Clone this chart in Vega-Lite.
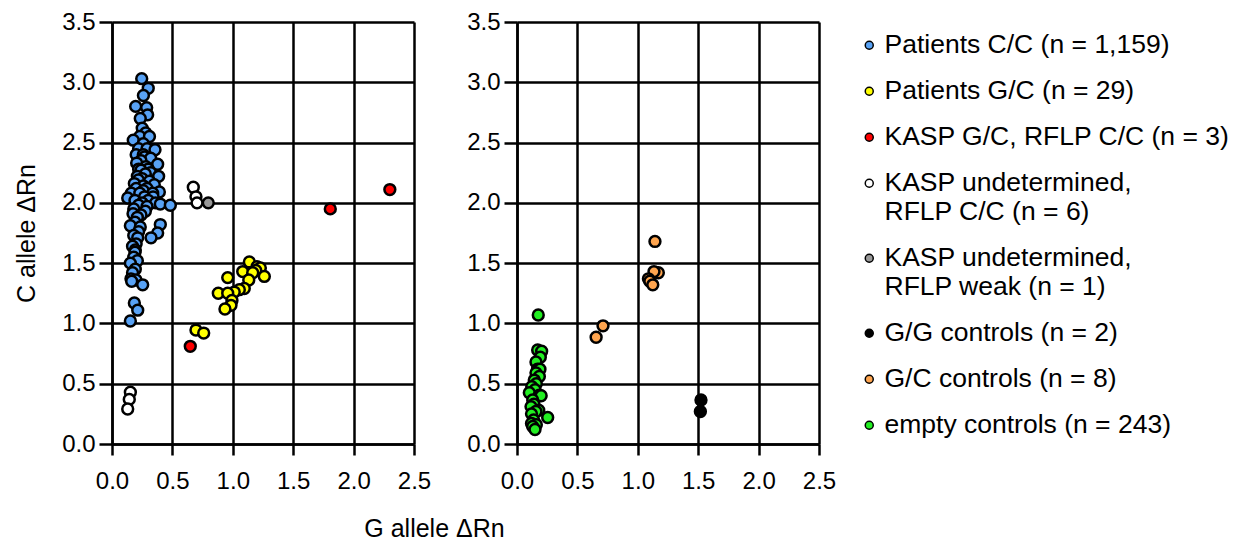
{
  "$schema": "https://vega.github.io/schema/vega-lite/v6.json",
  "padding": {"top": 10, "left": 14, "right": 5, "bottom": 1},
  "background": "white",
  "bounds": "flush",
  "spacing": 103,
  "datasets": {
    "pts": [
      {"p": "L", "g": "Patients C/C (n = 1,159)", "x": 0.246, "y": 3.03},
      {"p": "L", "g": "Patients C/C (n = 1,159)", "x": 0.30, "y": 2.95},
      {"p": "L", "g": "Patients C/C (n = 1,159)", "x": 0.26, "y": 2.89},
      {"p": "L", "g": "Patients C/C (n = 1,159)", "x": 0.196, "y": 2.80},
      {"p": "L", "g": "Patients C/C (n = 1,159)", "x": 0.287, "y": 2.79},
      {"p": "L", "g": "Patients C/C (n = 1,159)", "x": 0.295, "y": 2.73},
      {"p": "L", "g": "Patients C/C (n = 1,159)", "x": 0.234, "y": 2.70},
      {"p": "L", "g": "Patients C/C (n = 1,159)", "x": 0.25, "y": 2.62},
      {"p": "L", "g": "Patients C/C (n = 1,159)", "x": 0.279, "y": 2.58},
      {"p": "L", "g": "Patients C/C (n = 1,159)", "x": 0.23, "y": 2.55},
      {"p": "L", "g": "Patients C/C (n = 1,159)", "x": 0.31, "y": 2.55},
      {"p": "L", "g": "Patients C/C (n = 1,159)", "x": 0.176, "y": 2.52},
      {"p": "L", "g": "Patients C/C (n = 1,159)", "x": 0.259, "y": 2.49},
      {"p": "L", "g": "Patients C/C (n = 1,159)", "x": 0.22, "y": 2.45},
      {"p": "L", "g": "Patients C/C (n = 1,159)", "x": 0.29, "y": 2.45},
      {"p": "L", "g": "Patients C/C (n = 1,159)", "x": 0.356, "y": 2.44},
      {"p": "L", "g": "Patients C/C (n = 1,159)", "x": 0.20, "y": 2.40},
      {"p": "L", "g": "Patients C/C (n = 1,159)", "x": 0.259, "y": 2.40},
      {"p": "L", "g": "Patients C/C (n = 1,159)", "x": 0.27, "y": 2.38},
      {"p": "L", "g": "Patients C/C (n = 1,159)", "x": 0.32, "y": 2.37},
      {"p": "L", "g": "Patients C/C (n = 1,159)", "x": 0.24, "y": 2.35},
      {"p": "L", "g": "Patients C/C (n = 1,159)", "x": 0.204, "y": 2.33},
      {"p": "L", "g": "Patients C/C (n = 1,159)", "x": 0.378, "y": 2.32},
      {"p": "L", "g": "Patients C/C (n = 1,159)", "x": 0.28, "y": 2.30},
      {"p": "L", "g": "Patients C/C (n = 1,159)", "x": 0.30, "y": 2.28},
      {"p": "L", "g": "Patients C/C (n = 1,159)", "x": 0.22, "y": 2.28},
      {"p": "L", "g": "Patients C/C (n = 1,159)", "x": 0.24, "y": 2.27},
      {"p": "L", "g": "Patients C/C (n = 1,159)", "x": 0.32, "y": 2.25},
      {"p": "L", "g": "Patients C/C (n = 1,159)", "x": 0.276, "y": 2.24},
      {"p": "L", "g": "Patients C/C (n = 1,159)", "x": 0.21, "y": 2.22},
      {"p": "L", "g": "Patients C/C (n = 1,159)", "x": 0.386, "y": 2.22},
      {"p": "L", "g": "Patients C/C (n = 1,159)", "x": 0.25, "y": 2.20},
      {"p": "L", "g": "Patients C/C (n = 1,159)", "x": 0.218, "y": 2.19},
      {"p": "L", "g": "Patients C/C (n = 1,159)", "x": 0.31, "y": 2.18},
      {"p": "L", "g": "Patients C/C (n = 1,159)", "x": 0.185, "y": 2.16},
      {"p": "L", "g": "Patients C/C (n = 1,159)", "x": 0.35, "y": 2.15},
      {"p": "L", "g": "Patients C/C (n = 1,159)", "x": 0.26, "y": 2.14},
      {"p": "L", "g": "Patients C/C (n = 1,159)", "x": 0.20, "y": 2.12},
      {"p": "L", "g": "Patients C/C (n = 1,159)", "x": 0.29, "y": 2.12},
      {"p": "L", "g": "Patients C/C (n = 1,159)", "x": 0.259, "y": 2.10},
      {"p": "L", "g": "Patients C/C (n = 1,159)", "x": 0.392, "y": 2.09},
      {"p": "L", "g": "Patients C/C (n = 1,159)", "x": 0.16, "y": 2.08},
      {"p": "L", "g": "Patients C/C (n = 1,159)", "x": 0.23, "y": 2.08},
      {"p": "L", "g": "Patients C/C (n = 1,159)", "x": 0.337, "y": 2.08},
      {"p": "L", "g": "Patients C/C (n = 1,159)", "x": 0.27, "y": 2.05},
      {"p": "L", "g": "Patients C/C (n = 1,159)", "x": 0.34, "y": 2.05},
      {"p": "L", "g": "Patients C/C (n = 1,159)", "x": 0.13, "y": 2.04},
      {"p": "L", "g": "Patients C/C (n = 1,159)", "x": 0.19, "y": 2.02},
      {"p": "L", "g": "Patients C/C (n = 1,159)", "x": 0.30, "y": 2.02},
      {"p": "L", "g": "Patients C/C (n = 1,159)", "x": 0.25, "y": 2.00},
      {"p": "L", "g": "Patients C/C (n = 1,159)", "x": 0.36, "y": 2.00},
      {"p": "L", "g": "Patients C/C (n = 1,159)", "x": 0.40, "y": 1.99},
      {"p": "L", "g": "Patients C/C (n = 1,159)", "x": 0.483, "y": 1.98},
      {"p": "L", "g": "Patients C/C (n = 1,159)", "x": 0.22, "y": 1.98},
      {"p": "L", "g": "Patients C/C (n = 1,159)", "x": 0.29, "y": 1.97},
      {"p": "L", "g": "Patients C/C (n = 1,159)", "x": 0.18, "y": 1.95},
      {"p": "L", "g": "Patients C/C (n = 1,159)", "x": 0.276, "y": 1.93},
      {"p": "L", "g": "Patients C/C (n = 1,159)", "x": 0.174, "y": 1.91},
      {"p": "L", "g": "Patients C/C (n = 1,159)", "x": 0.24, "y": 1.90},
      {"p": "L", "g": "Patients C/C (n = 1,159)", "x": 0.21, "y": 1.88},
      {"p": "L", "g": "Patients C/C (n = 1,159)", "x": 0.19, "y": 1.84},
      {"p": "L", "g": "Patients C/C (n = 1,159)", "x": 0.40, "y": 1.82},
      {"p": "L", "g": "Patients C/C (n = 1,159)", "x": 0.152, "y": 1.81},
      {"p": "L", "g": "Patients C/C (n = 1,159)", "x": 0.234, "y": 1.80},
      {"p": "L", "g": "Patients C/C (n = 1,159)", "x": 0.22, "y": 1.76},
      {"p": "L", "g": "Patients C/C (n = 1,159)", "x": 0.378, "y": 1.75},
      {"p": "L", "g": "Patients C/C (n = 1,159)", "x": 0.18, "y": 1.73},
      {"p": "L", "g": "Patients C/C (n = 1,159)", "x": 0.213, "y": 1.71},
      {"p": "L", "g": "Patients C/C (n = 1,159)", "x": 0.323, "y": 1.71},
      {"p": "L", "g": "Patients C/C (n = 1,159)", "x": 0.20, "y": 1.66},
      {"p": "L", "g": "Patients C/C (n = 1,159)", "x": 0.17, "y": 1.64},
      {"p": "L", "g": "Patients C/C (n = 1,159)", "x": 0.193, "y": 1.61},
      {"p": "L", "g": "Patients C/C (n = 1,159)", "x": 0.19, "y": 1.59},
      {"p": "L", "g": "Patients C/C (n = 1,159)", "x": 0.18, "y": 1.55},
      {"p": "L", "g": "Patients C/C (n = 1,159)", "x": 0.21, "y": 1.52},
      {"p": "L", "g": "Patients C/C (n = 1,159)", "x": 0.152, "y": 1.50},
      {"p": "L", "g": "Patients C/C (n = 1,159)", "x": 0.193, "y": 1.45},
      {"p": "L", "g": "Patients C/C (n = 1,159)", "x": 0.17, "y": 1.42},
      {"p": "L", "g": "Patients C/C (n = 1,159)", "x": 0.157, "y": 1.37},
      {"p": "L", "g": "Patients C/C (n = 1,159)", "x": 0.199, "y": 1.36},
      {"p": "L", "g": "Patients C/C (n = 1,159)", "x": 0.163, "y": 1.35},
      {"p": "L", "g": "Patients C/C (n = 1,159)", "x": 0.254, "y": 1.32},
      {"p": "L", "g": "Patients C/C (n = 1,159)", "x": 0.185, "y": 1.17},
      {"p": "L", "g": "Patients C/C (n = 1,159)", "x": 0.213, "y": 1.11},
      {"p": "L", "g": "Patients C/C (n = 1,159)", "x": 0.152, "y": 1.02},
      {"p": "L", "g": "KASP undetermined, RFLP C/C (n = 6)", "x": 0.673, "y": 2.13},
      {"p": "L", "g": "KASP undetermined, RFLP C/C (n = 6)", "x": 0.695, "y": 2.05},
      {"p": "L", "g": "KASP undetermined, RFLP C/C (n = 6)", "x": 0.704, "y": 2.00},
      {"p": "L", "g": "KASP undetermined, RFLP C/C (n = 6)", "x": 0.152, "y": 0.43},
      {"p": "L", "g": "KASP undetermined, RFLP C/C (n = 6)", "x": 0.143, "y": 0.37},
      {"p": "L", "g": "KASP undetermined, RFLP C/C (n = 6)", "x": 0.13, "y": 0.29},
      {"p": "L", "g": "KASP undetermined, RFLP weak (n = 1)", "x": 0.797, "y": 2.00},
      {"p": "L", "g": "Patients G/C (n = 29)", "x": 1.137, "y": 1.51},
      {"p": "L", "g": "Patients G/C (n = 29)", "x": 1.20, "y": 1.47},
      {"p": "L", "g": "Patients G/C (n = 29)", "x": 1.228, "y": 1.46},
      {"p": "L", "g": "Patients G/C (n = 29)", "x": 1.19, "y": 1.44},
      {"p": "L", "g": "Patients G/C (n = 29)", "x": 1.261, "y": 1.39},
      {"p": "L", "g": "Patients G/C (n = 29)", "x": 1.082, "y": 1.43},
      {"p": "L", "g": "Patients G/C (n = 29)", "x": 1.165, "y": 1.42},
      {"p": "L", "g": "Patients G/C (n = 29)", "x": 0.958, "y": 1.38},
      {"p": "L", "g": "Patients G/C (n = 29)", "x": 1.132, "y": 1.36},
      {"p": "L", "g": "Patients G/C (n = 29)", "x": 1.095, "y": 1.29},
      {"p": "L", "g": "Patients G/C (n = 29)", "x": 1.054, "y": 1.28},
      {"p": "L", "g": "Patients G/C (n = 29)", "x": 1.012, "y": 1.26},
      {"p": "L", "g": "Patients G/C (n = 29)", "x": 0.88, "y": 1.25},
      {"p": "L", "g": "Patients G/C (n = 29)", "x": 0.958, "y": 1.25},
      {"p": "L", "g": "Patients G/C (n = 29)", "x": 0.993, "y": 1.19},
      {"p": "L", "g": "Patients G/C (n = 29)", "x": 0.985, "y": 1.15},
      {"p": "L", "g": "Patients G/C (n = 29)", "x": 0.935, "y": 1.12},
      {"p": "L", "g": "Patients G/C (n = 29)", "x": 0.695, "y": 0.945},
      {"p": "L", "g": "Patients G/C (n = 29)", "x": 0.759, "y": 0.92},
      {"p": "L", "g": "KASP G/C, RFLP C/C (n = 3)", "x": 1.807, "y": 1.95},
      {"p": "L", "g": "KASP G/C, RFLP C/C (n = 3)", "x": 2.30, "y": 2.11},
      {"p": "L", "g": "KASP G/C, RFLP C/C (n = 3)", "x": 0.648, "y": 0.81},
      {"p": "R", "g": "G/C controls (n = 8)", "x": 1.142, "y": 1.68},
      {"p": "R", "g": "G/C controls (n = 8)", "x": 1.17, "y": 1.42},
      {"p": "R", "g": "G/C controls (n = 8)", "x": 1.134, "y": 1.43},
      {"p": "R", "g": "G/C controls (n = 8)", "x": 1.088, "y": 1.37},
      {"p": "R", "g": "G/C controls (n = 8)", "x": 1.10, "y": 1.35},
      {"p": "R", "g": "G/C controls (n = 8)", "x": 1.124, "y": 1.32},
      {"p": "R", "g": "G/C controls (n = 8)", "x": 0.712, "y": 0.98},
      {"p": "R", "g": "G/C controls (n = 8)", "x": 0.655, "y": 0.885},
      {"p": "R", "g": "G/G controls (n = 2)", "x": 1.523, "y": 0.365},
      {"p": "R", "g": "G/G controls (n = 2)", "x": 1.518, "y": 0.27},
      {"p": "R", "g": "empty controls (n = 243)", "x": 0.176, "y": 1.07},
      {"p": "R", "g": "empty controls (n = 243)", "x": 0.171, "y": 0.78},
      {"p": "R", "g": "empty controls (n = 243)", "x": 0.204, "y": 0.77},
      {"p": "R", "g": "empty controls (n = 243)", "x": 0.193, "y": 0.72},
      {"p": "R", "g": "empty controls (n = 243)", "x": 0.157, "y": 0.68},
      {"p": "R", "g": "empty controls (n = 243)", "x": 0.17, "y": 0.62},
      {"p": "R", "g": "empty controls (n = 243)", "x": 0.19, "y": 0.62},
      {"p": "R", "g": "empty controls (n = 243)", "x": 0.157, "y": 0.59},
      {"p": "R", "g": "empty controls (n = 243)", "x": 0.185, "y": 0.56},
      {"p": "R", "g": "empty controls (n = 243)", "x": 0.143, "y": 0.53},
      {"p": "R", "g": "empty controls (n = 243)", "x": 0.16, "y": 0.50},
      {"p": "R", "g": "empty controls (n = 243)", "x": 0.122, "y": 0.475},
      {"p": "R", "g": "empty controls (n = 243)", "x": 0.15, "y": 0.45},
      {"p": "R", "g": "empty controls (n = 243)", "x": 0.102, "y": 0.425},
      {"p": "R", "g": "empty controls (n = 243)", "x": 0.185, "y": 0.405},
      {"p": "R", "g": "empty controls (n = 243)", "x": 0.20, "y": 0.40},
      {"p": "R", "g": "empty controls (n = 243)", "x": 0.13, "y": 0.365},
      {"p": "R", "g": "empty controls (n = 243)", "x": 0.14, "y": 0.33},
      {"p": "R", "g": "empty controls (n = 243)", "x": 0.116, "y": 0.31},
      {"p": "R", "g": "empty controls (n = 243)", "x": 0.18, "y": 0.28},
      {"p": "R", "g": "empty controls (n = 243)", "x": 0.157, "y": 0.27},
      {"p": "R", "g": "empty controls (n = 243)", "x": 0.12, "y": 0.25},
      {"p": "R", "g": "empty controls (n = 243)", "x": 0.254, "y": 0.22},
      {"p": "R", "g": "empty controls (n = 243)", "x": 0.138, "y": 0.20},
      {"p": "R", "g": "empty controls (n = 243)", "x": 0.12, "y": 0.17},
      {"p": "R", "g": "empty controls (n = 243)", "x": 0.16, "y": 0.16},
      {"p": "R", "g": "empty controls (n = 243)", "x": 0.13, "y": 0.145},
      {"p": "R", "g": "empty controls (n = 243)", "x": 0.149, "y": 0.12}
    ]
  },
  "hconcat": [
    {
      "width": 302,
      "height": 422,
      "data": {"name": "pts"},
      "transform": [{"filter": "datum.p == 'L'"}],
      "mark": {"type": "point", "shape": "circle", "filled": true, "size": 118, "stroke": "black", "strokeWidth": 2.5, "opacity": 1},
      "encoding": {
        "x": {"field": "x", "type": "quantitative", "scale": {"domain": [0, 2.5], "nice": false, "zero": false},
              "axis": {"values": [0, 0.5, 1, 1.5, 2, 2.5], "format": ".1f", "title": "G allele ΔRn", "titleX": 322, "titlePadding": 23, "labelPadding": 14, "tickSize": 11}},
        "y": {"field": "y", "type": "quantitative", "scale": {"domain": [0, 3.5], "nice": false, "zero": false},
              "axis": {"values": [0, 0.5, 1, 1.5, 2, 2.5, 3, 3.5], "format": ".1f", "title": "C allele ΔRn", "titlePadding": 22}},
        "color": {"field": "g", "type": "nominal", "title": null,
          "scale": {
            "domain": ["Patients C/C (n = 1,159)", "Patients G/C (n = 29)", "KASP G/C, RFLP C/C (n = 3)", "KASP undetermined, RFLP C/C (n = 6)", "KASP undetermined, RFLP weak (n = 1)", "G/G controls (n = 2)", "G/C controls (n = 8)", "empty controls (n = 243)"],
            "range": ["#58A2F5", "#FFFF00", "#FF0000", "#FFFFFF", "#999999", "#000000", "#FFA54F", "#22EE22"]
          },
          "legend": {
            "labelExpr": "datum.label == 'KASP undetermined, RFLP C/C (n = 6)' ? ['KASP undetermined,', 'RFLP C/C (n = 6)'] : datum.label == 'KASP undetermined, RFLP weak (n = 1)' ? ['KASP undetermined,', 'RFLP weak (n = 1)'] : datum.label",
            "encode": {"labels": {"update": {"lineHeight": {"value": 34}, "dy": {"signal": "indexof(datum.value, 'undetermined') >= 0 ? 17 : 0"}}}}
          }
        }
      }
    },
    {
      "width": 302,
      "height": 422,
      "data": {"name": "pts"},
      "transform": [{"filter": "datum.p == 'R'"}],
      "mark": {"type": "point", "shape": "circle", "filled": true, "size": 118, "stroke": "black", "strokeWidth": 2.5, "opacity": 1},
      "encoding": {
        "x": {"field": "x", "type": "quantitative", "scale": {"domain": [0, 2.5], "nice": false, "zero": false},
              "axis": {"values": [0, 0.5, 1, 1.5, 2, 2.5], "format": ".1f", "title": null, "labelPadding": 14, "tickSize": 11}},
        "y": {"field": "y", "type": "quantitative", "scale": {"domain": [0, 3.5], "nice": false, "zero": false},
              "axis": {"values": [0, 0.5, 1, 1.5, 2, 2.5, 3, 3.5], "format": ".1f", "title": null}},
        "color": {"field": "g", "type": "nominal", "title": null,
          "scale": {
            "domain": ["Patients C/C (n = 1,159)", "Patients G/C (n = 29)", "KASP G/C, RFLP C/C (n = 3)", "KASP undetermined, RFLP C/C (n = 6)", "KASP undetermined, RFLP weak (n = 1)", "G/G controls (n = 2)", "G/C controls (n = 8)", "empty controls (n = 243)"],
            "range": ["#58A2F5", "#FFFF00", "#FF0000", "#FFFFFF", "#999999", "#000000", "#FFA54F", "#22EE22"]
          },
          "legend": {
            "labelExpr": "datum.label == 'KASP undetermined, RFLP C/C (n = 6)' ? ['KASP undetermined,', 'RFLP C/C (n = 6)'] : datum.label == 'KASP undetermined, RFLP weak (n = 1)' ? ['KASP undetermined,', 'RFLP weak (n = 1)'] : datum.label",
            "encode": {"labels": {"update": {"lineHeight": {"value": 34}, "dy": {"signal": "indexof(datum.value, 'undetermined') >= 0 ? 17 : 0"}}}}
          }
        }
      }
    }
  ],
  "resolve": {"scale": {"x": "independent", "y": "independent"}},
  "config": {
    "font": "Liberation Sans",
    "view": {"stroke": null},
    "axis": {
      "grid": true, "gridColor": "#000000", "gridWidth": 2.5, "gridOpacity": 1,
      "domain": true, "domainColor": "#000000", "domainWidth": 2.5,
      "ticks": true, "tickColor": "#000000", "tickWidth": 2.5, "tickSize": 13,
      "labelFont": "Liberation Sans", "labelFontSize": 24, "labelColor": "#000000",
      "labelFlush": false, "labelOverlap": false, "labelPadding": 4,
      "titleFont": "Liberation Sans", "titleFontSize": 25, "titleFontWeight": "normal", "titleColor": "#000000"
    },
    "legend": {
      "orient": "right", "offset": 10, "padding": 10,
      "labelFont": "Liberation Sans", "labelFontSize": 26.5, "labelColor": "#000000", "labelLimit": 500,
      "symbolType": "circle", "symbolSize": 64, "symbolStrokeColor": "#000000", "symbolStrokeWidth": 1.5,
      "labelOffset": 2, "rowPadding": 19
    }
  }
}
